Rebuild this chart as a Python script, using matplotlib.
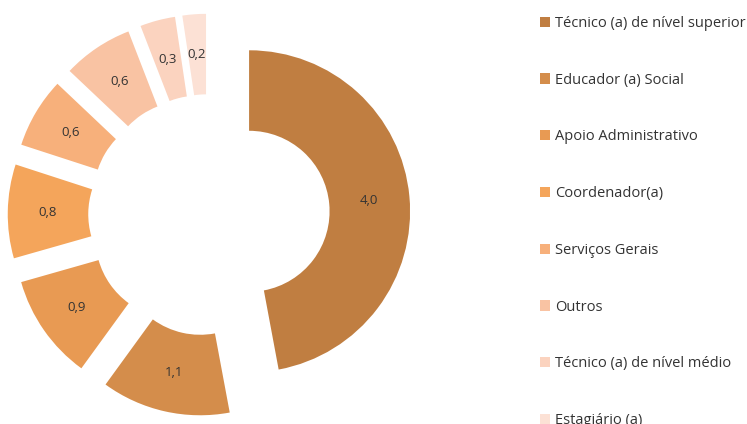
import matplotlib.pyplot as plt
from matplotlib.patches import Patch

categories = ['Técnico (a) de nível superior', 'Educador (a) Social', 'Apoio Administrativo',
              'Coordenador(a)', 'Serviços Gerais', 'Outros', 'Técnico (a) de nível médio',
              'Estagiário (a)']
values = [4.0, 1.1, 0.9, 0.8, 0.6, 0.6, 0.3, 0.2]
value_labels = ['4,0', '1,1', '0,9', '0,8', '0,6', '0,6', '0,3', '0,2']
colors = ['#C07E41', '#D48D4B', '#E89A53', '#F4A55B', '#F7B07B', '#F9C3A3', '#FBD3BF', '#FCE1D5']

plt.rcParams['font.family'] = ['Open Sans', 'DejaVu Sans']

fig = plt.figure(figsize=(7.47, 4.24), dpi=100)
# axes covers left 420 px, scale 161 px per data unit, centre at (209, 215) px
ax = fig.add_axes([0, 0, 420 / 747, 1])
ax.pie(values, colors=colors, labels=value_labels, labeldistance=0.75,
       startangle=90, counterclock=False, explode=[0.25] * len(values),
       wedgeprops=dict(width=0.5, linewidth=0),
       textprops=dict(fontsize=9.5, color='#333333', ha='center', va='center'))
ax.set_xlim(-209 / 161, 211 / 161)
ax.set_ylim(-209 / 161, 215 / 161)
ax.set_aspect('auto')
ax.axis('off')

handles = [Patch(facecolor=c, edgecolor='none') for c in colors]
fig.legend(handles, categories, loc='upper left', bbox_to_anchor=(540 / 747, 1 - 16 / 424),
           frameon=False, fontsize=10.5, handlelength=0.7, handleheight=0.7,
           handletextpad=0.35, labelspacing=2.86, borderaxespad=0, borderpad=0,
           labelcolor='#333333')

fig.savefig('out.png', dpi=100)
